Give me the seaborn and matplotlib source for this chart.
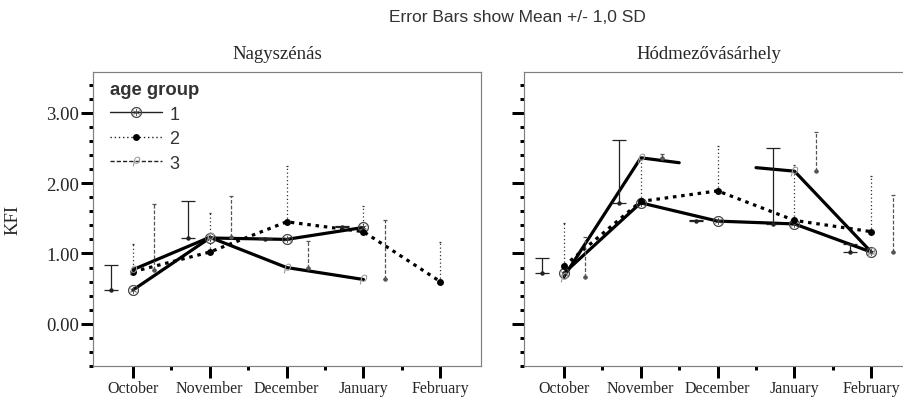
import numpy as np
import pandas as pd
import matplotlib
matplotlib.use("Agg")
import matplotlib.pyplot as plt
import seaborn as sns
from matplotlib.lines import Line2D
from matplotlib.ticker import MultipleLocator, FixedLocator

months = ["October", "November", "December", "January", "February"]
nan = np.nan

# Nagyszénás  (mean and +1 SD, per age group)
nagy_g1_mean = [0.48, 1.22, 1.20, 1.37, nan]
nagy_g1_sd = [0.35, 0.53, 0.02, 0.02, nan]
nagy_g2_mean = [0.74, 1.02, 1.45, 1.31, 0.60]
nagy_g2_sd = [0.40, 0.56, 0.80, 0.37, 0.57]
nagy_g3_mean = [0.77, 1.23, 0.80, 0.63, nan]
nagy_g3_sd = [0.94, 0.59, 0.38, 0.85, nan]

# Hódmezővásárhely
hod_g1_mean = [0.72, 1.72, 1.46, 1.42, 1.02]
hod_g1_sd = [0.22, 0.90, 0.02, 1.08, 0.12]
hod_g2_mean = [0.82, 1.74, 1.89, 1.47, 1.31]
hod_g2_sd = [0.62, 0.61, 0.64, 0.79, 0.79]
hod_g3_mean = [0.67, 2.36, nan, 2.17, 1.02]
hod_g3_sd = [0.57, 0.05, nan, 0.56, 0.81]
# group 3 line as SPSS drew it (half segments around the missing month)
hod_g3_line_x = [0, 1, 1.5, nan, 2.5, 3, 4]
hod_g3_line_y = [0.67, 2.36, 2.29, nan, 2.22, 2.17, 1.02]

sns.set_theme(style="white")
plt.rcParams['font.family'] = ['Liberation Serif', 'DejaVu Serif']

px = 72 / 100  # points per pixel

styles = {
    1: dict(ls="-", marker=r"$\circledast$", mcol="#444444", ms=8, off=-0.28,
            ecol="#222222", els="-", cap=5),
    2: dict(ls=(0, (1.1, 1.5)), marker="o", mcol="black", ms=5, off=0.0,
            ecol="#333333", els=(0, (1, 2)), cap=1),
    3: dict(ls="-", marker=r"$\rho$", mcol="#999999", ms=7, off=0.28,
            ecol="#555555", els=(0, (3, 1.5)), cap=1.5),
}


def draw_group(ax, g, mean, sd, line_x=None, line_y=None):
    st = styles[g]
    x = np.arange(len(months))
    mean = np.array(mean)
    sd = np.array(sd)
    if line_x is None:
        line_x, line_y = x, mean
    df = pd.DataFrame({"x": line_x, "kfi": line_y})
    df["seg"] = df["kfi"].isna().cumsum()
    df = df.dropna()
    sns.lineplot(data=df, x="x", y="kfi", units="seg", estimator=None, ax=ax,
                 color="black", lw=2.3, linestyle=st["ls"], legend=False)
    ok = ~np.isnan(mean)
    sns.scatterplot(x=x[ok], y=mean[ok], ax=ax, marker=st["marker"],
                    s=st["ms"] ** 2, color=st["mcol"], edgecolor=st["mcol"],
                    linewidth=0, zorder=5, legend=False)
    # upper-only error bars, drawn beside the category
    eb = ax.errorbar(x[ok] + st["off"], mean[ok], yerr=[np.zeros(ok.sum()), sd[ok]],
                     fmt="o", ms=2.2, color=st["ecol"], elinewidth=0.9,
                     capsize=st["cap"], capthick=0.9, zorder=4)
    eb[2][0].set_linestyle(st["els"])


fig = plt.figure(figsize=(9.04, 4.02), dpi=100)
axL = fig.add_axes([93 / 904, 35 / 402, 388 / 904, 294 / 402])
axR = fig.add_axes([524 / 904, 35 / 402, 388 / 904, 294 / 402])

draw_group(axL, 1, nagy_g1_mean, nagy_g1_sd)
draw_group(axL, 2, nagy_g2_mean, nagy_g2_sd)
draw_group(axL, 3, nagy_g3_mean, nagy_g3_sd)

draw_group(axR, 1, hod_g1_mean, hod_g1_sd)
draw_group(axR, 2, hod_g2_mean, hod_g2_sd)
draw_group(axR, 3, hod_g3_mean, hod_g3_sd, hod_g3_line_x, hod_g3_line_y)

for ax, title in [(axL, "Nagyszénás"), (axR, "Hódmezővásárhely")]:
    ax.set_xlim(-0.52, 4.53)
    ax.set_ylim(-0.60, 3.58)
    ax.set_xlabel("")
    ax.set_ylabel("")
    ax.set_title(title, fontsize=13.5, pad=10, x=0.476)
    ax.xaxis.set_major_locator(FixedLocator(range(len(months))))
    ax.set_xticklabels(months, fontsize=11.5)
    ax.xaxis.set_minor_locator(FixedLocator(np.arange(0.5, 4, 1)))
    ax.yaxis.set_major_locator(FixedLocator([0, 1, 2, 3]))
    ax.yaxis.set_minor_locator(MultipleLocator(0.2))
    ax.tick_params(axis="both", which="major", direction="out", length=12 * px,
                   width=3 * px, color="black", pad=1.5,
                   bottom=True, left=True)
    ax.tick_params(axis="both", which="minor", direction="out", length=4 * px,
                   width=3 * px, color="black", bottom=True, left=True)
    for sp in ax.spines.values():
        sp.set_color("#808080")
        sp.set_linewidth(1.2 * px)

axL.set_yticklabels(["0.00", "1.00", "2.00", "3.00"], fontsize=13.5)
axR.set_yticklabels([])
axL.set_ylabel("KFI", fontsize=13.5, labelpad=18)

handles = []
for g in (1, 2, 3):
    st = styles[g]
    ls = {1: "-", 2: (0, (1, 2)), 3: (0, (3, 1.5))}[g]
    handles.append(Line2D([0], [0], color="#222222", lw=1.0, linestyle=ls,
                          marker=st["marker"], markersize=st["ms"],
                          markerfacecolor=st["mcol"], markeredgecolor=st["mcol"],
                          markeredgewidth=0))
leg = axL.legend(handles, ["1", "2", "3"], title="age group", loc="upper left",
                 bbox_to_anchor=(0.02, 1.0), frameon=False, handlelength=2.9,
                 handletextpad=0.4, labelspacing=0.42, borderaxespad=0.1,
                 prop={"family": "Liberation Sans", "size": 13},
                 title_fontproperties={"family": "Liberation Sans", "size": 13.3,
                                       "weight": "bold"})
leg._legend_box.align = "left"
for t in leg.get_texts():
    t.set_color("#333333")
leg.get_title().set_color("#333333")

fig.text(517 / 904, 1 - 17 / 402, "Error Bars show Mean +/- 1,0 SD", ha="center",
         va="center", fontsize=12.5, color="#333333", family="Liberation Sans")

fig.savefig("out.png", dpi=100)
